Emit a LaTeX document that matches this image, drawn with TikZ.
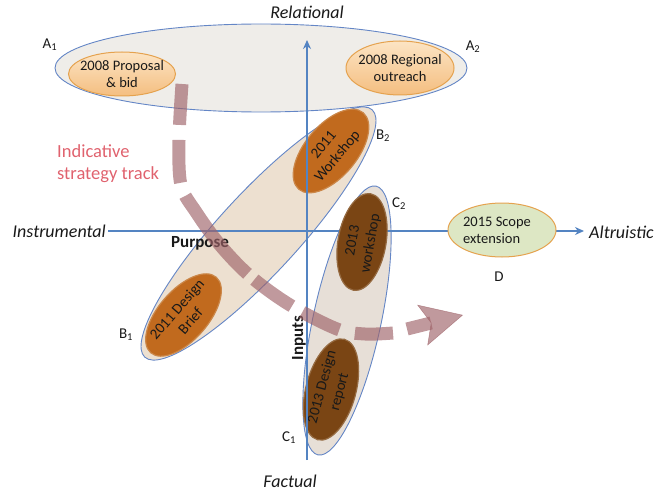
\documentclass[tikz,border=0pt]{standalone}
\usepackage{fontspec}
\setmainfont{Carlito}
\usetikzlibrary{shapes.geometric,arrows.meta}

\definecolor{axisblue}{RGB}{84,132,194}
\definecolor{rimblue}{RGB}{100,134,198}
\definecolor{paleA}{RGB}{239,237,233}
\definecolor{tanB}{RGB}{234,220,202}
\definecolor{greyC}{RGB}{228,219,210}
\definecolor{peachtop}{RGB}{252,228,196}
\definecolor{peachbot}{RGB}{244,190,128}
\definecolor{peachrim}{RGB}{229,162,78}
\definecolor{rust}{RGB}{193,106,30}
\definecolor{umber}{RGB}{122,69,20}
\definecolor{sage}{RGB}{221,231,196}
\definecolor{trackred}{RGB}{158,98,104}
\definecolor{notered}{RGB}{224,98,110}
\definecolor{ink}{RGB}{25,25,25}

\tikzset{
  bigell/.style={ellipse, draw=rimblue, line width=0.9pt, inner sep=0pt},
  peach/.style={ellipse, draw=peachrim, line width=1pt, top color=peachtop,
    bottom color=peachbot, inner sep=0pt},
  rustnode/.style={ellipse, fill=rust, draw=rust!75!tanB, line width=1.2pt, inner sep=0pt},
  umbernode/.style={ellipse, fill=umber, draw=umber!75!tanB, line width=1.2pt, inner sep=0pt},
  sagenode/.style={ellipse, fill=sage, draw=peachrim, line width=1pt, inner sep=0pt},
  lighttext/.style={align=center, inner sep=0pt, text=ink,
    font=\fontsize{14.5}{17}\selectfont},
  darktext/.style={align=center, inner sep=0pt, text=ink,
    font=\fontsize{15}{18}\selectfont},
  axis/.style={draw=axisblue, line width=1.5pt},
  axistip/.style={-{Stealth[length=9pt,width=8pt]}},
  axislabel/.style={inner sep=0pt, text=ink, font=\fontsize{18}{21}\selectfont\itshape},
  tag/.style={inner sep=0pt, text=ink, font=\fontsize{15}{18}\selectfont},
  dimlabel/.style={inner sep=0pt, text=ink, font=\fontsize{17}{20}\selectfont\bfseries},
  track/.style={draw=trackred, opacity=0.65, line width=13pt}
}

\begin{document}
\begin{tikzpicture}[x=1pt, y=-1pt]
\useasboundingbox (0,0) rectangle (658,492);

% grouping ellipses
\node[bigell, fill=paleA, minimum width=412, minimum height=88] (A) at (261,68) {};
\node[bigell, fill=tanB, fill opacity=0.88, rotate=47.4,
      minimum width=336, minimum height=80] (B) at (258.5,233.5) {};
\node[bigell, fill=greyC, fill opacity=0.88, rotate=77.8,
      minimum width=275, minimum height=68] (C) at (347,320.5) {};

% purpose axis
\coordinate (hL) at (108,231);
\coordinate (hR) at (584,231);
\draw[axis, axistip] (hL) -- (hR);

% 2008 activities
\node[peach, minimum width=107, minimum height=44] (prop) at (122,74) {};
\node[lighttext] (propT) at (prop.center) {2008 Proposal\\\& bid};
\node[peach, minimum width=108, minimum height=54] (reg) at (400,68) {};
\node[lighttext] (regT) at (reg.center) {2008 Regional\\outreach};

% 2011 activities
\node[rustnode, rotate=50, minimum width=100, minimum height=52] (ws11) at (331,151) {};
\node[darktext, rotate=50] (ws11T) at (ws11.center) {2011\\Workshop};
\node[rustnode, rotate=49, minimum width=100, minimum height=50] (db11) at (183.5,315) {};
\node[darktext, rotate=49] (db11T) at (db11.center) {2011 Design\\Brief};

% 2013 activities
\node[umbernode, rotate=80, minimum width=98, minimum height=48] (ws13) at (362,242) {};
\node[darktext, rotate=80] (ws13T) at (ws13.center) {2013\\workshop};
\node[umbernode, rotate=75, minimum width=104, minimum height=50] (dr13) at (331,389.5) {};
\node[darktext, rotate=75] (dr13T) at (dr13.center) {2013 Design\\report};

% inputs axis
\coordinate (vB) at (307,460);
\coordinate (vT) at (307,40);
\draw[axis, axistip] (vB) -- (vT);

% 2015 activity
\node[sagenode, minimum width=108, minimum height=54] (scope) at (502,230) {};
\node[lighttext, align=left] (scopeT) at (497,230) {2015 Scope\\extension};

% axis end labels
\node[axislabel] (rel) at (307,12) {Relational};
\node[axislabel] (fact) at (290,481) {Factual};
\node[axislabel, anchor=east] (instr) at (106,231) {Instrumental};
\node[axislabel, anchor=west] (altr) at (589,232) {Altruistic};

% axis names
\node[dimlabel] (purp) at (200,243) {Purpose};
\node[dimlabel, rotate=90] (inp) at (299,338) {Inputs};

% corner tags
\node[tag] (a1) at (50,45) {A\textsubscript{1}};
\node[tag] (a2) at (473,47) {A\textsubscript{2}};
\node[tag] (b1) at (126,335) {B\textsubscript{1}};
\node[tag] (b2) at (383,136) {B\textsubscript{2}};
\node[tag] (c1) at (289,438) {C\textsubscript{1}};
\node[tag] (c2) at (399,204) {C\textsubscript{2}};
\node[tag] (d) at (499,277) {D};

% strategy track
\node[anchor=west, align=left, inner sep=0pt, text=notered,
      font=\fontsize{18.5}{22}\selectfont] (note) at (57,164) {Indicative\\strategy track};
\coordinate (t0) at (182,84);
\coordinate (t9) at (393,333);
\draw[track, dash pattern=on 41pt off 15pt on 43pt off 14pt on 100pt off 9pt on 46pt off 12pt on 41pt off 16pt on 40pt off 30pt]
  plot[smooth, tension=0.55] coordinates {(t0) (179,140) (181,185) (196,212) (220,245)
    (250,276) (290,305) (337,329) (365,334) (t9)};
\coordinate (h0) at (407,329);
\coordinate (h1) at (463,315);
\draw[track, -{Stealth[length=42pt,width=42pt,inset=9pt,line width=0.5pt]}] (h0) -- (h1);
\end{tikzpicture}
\end{document}
